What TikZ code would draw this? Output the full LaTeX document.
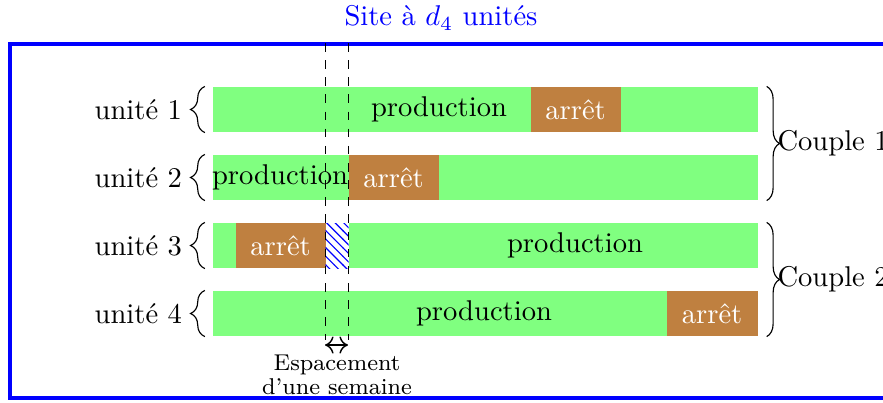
\documentclass[tikz,border=0pt]{standalone}
\usepackage{fontspec}
\usetikzlibrary{patterns,decorations.pathreplacing,calc,arrows.meta}
\begin{document}
\begin{tikzpicture}[x=0.35pt,y=-0.35pt,
  bar/.style={fill=green!50, draw=none, inner sep=0pt, minimum height=15.75pt, minimum width=190.75pt, anchor=west},
  stop/.style={fill=brown, text=white, inner sep=0pt, minimum height=15.75pt, minimum width=31.5pt, anchor=west},
  hatch/.style={preaction={fill=white}, pattern=north west lines, pattern color=blue, inner sep=0pt, minimum height=15.75pt, minimum width=8.05pt, anchor=west},
  lbl/.style={inner sep=0pt},
  lbrace/.style={decorate, decoration={brace, amplitude=5pt}},
  rbrace/.style={decorate, decoration={brace, amplitude=4.5pt}},
  guide/.style={dashed, line width=0.3pt},
  frame/.style={draw=blue, line width=1.2pt},
  span/.style={{To[length=3pt,width=6pt]}-{To[length=3pt,width=6pt]}, line width=0.5pt}
]
\useasboundingbox (0,0) rectangle (883,402);
\clip (0,0) rectangle (883,402);

% title and frame
\node[lbl, text=blue] (title) at (441,18) {Site à $d_4$ unités};
\draw[frame] (10,44) rectangle (920,398);

% rows
\node[bar] (bar1) at (212,109.5) {};
\node[bar] (bar2) at (212,177.5) {};
\node[bar] (bar3) at (212,245.5) {};
\node[bar] (bar4) at (212,313.5) {};

% row 1
\node[stop] (s1) at (530,109.5) {arrêt};
\node[lbl] (p1) at (439,109.5) {production};
% row 2
\node[stop] (s2) at (348,177.5) {arrêt};
\node[lbl] (p2) at (280,177.5) {production};
% row 3
\node[stop] (s3) at (235,245.5) {arrêt};
\node[hatch] (h3) at (325,245.5) {};
\node[lbl] (p3) at (575,245.5) {production};
% row 4
\node[stop, minimum width=31.85pt] (s4) at (666,313.5) {arrêt};
\node[lbl] (p4) at (484,313.5) {production};

% left braces and labels
\foreach \i in {1,2,3,4}{
  \draw[lbrace] ([xshift=-2.5pt]bar\i.south west) -- ([xshift=-2.5pt]bar\i.north west);
  \node[lbl, anchor=east] (u\i) at ([xshift=-10.3pt]bar\i.west) {unité \i};
}

% right braces
\draw[rbrace] ([xshift=3pt]bar1.north east) -- ([xshift=3pt]bar2.south east);
\draw[rbrace] ([xshift=3pt]bar3.north east) -- ([xshift=3pt]bar4.south east);
\node[lbl, anchor=west] (c1) at ($(bar1.east)!0.5!(bar2.east)+(6.6pt,0)$) {Couple 1};
\node[lbl, anchor=west] (c2) at ($(bar3.east)!0.5!(bar4.east)+(6.6pt,0)$) {Couple 2};

% week spacing guides
\coordinate (ga) at (325,43);
\coordinate (gb) at (348,43);
\coordinate (ga2) at (325,340);
\coordinate (gb2) at (348,340);
\draw[guide] (ga) -- (ga2);
\draw[guide] (gb) -- (gb2);
\coordinate (aa) at (325,345);
\coordinate (ab) at (348,345);
\draw[span] (aa) -- (ab);
\node[lbl, font=\footnotesize, align=center] (esp) at (337,375) {Espacement\\[-1pt]d’une semaine};
\end{tikzpicture}
\end{document}
